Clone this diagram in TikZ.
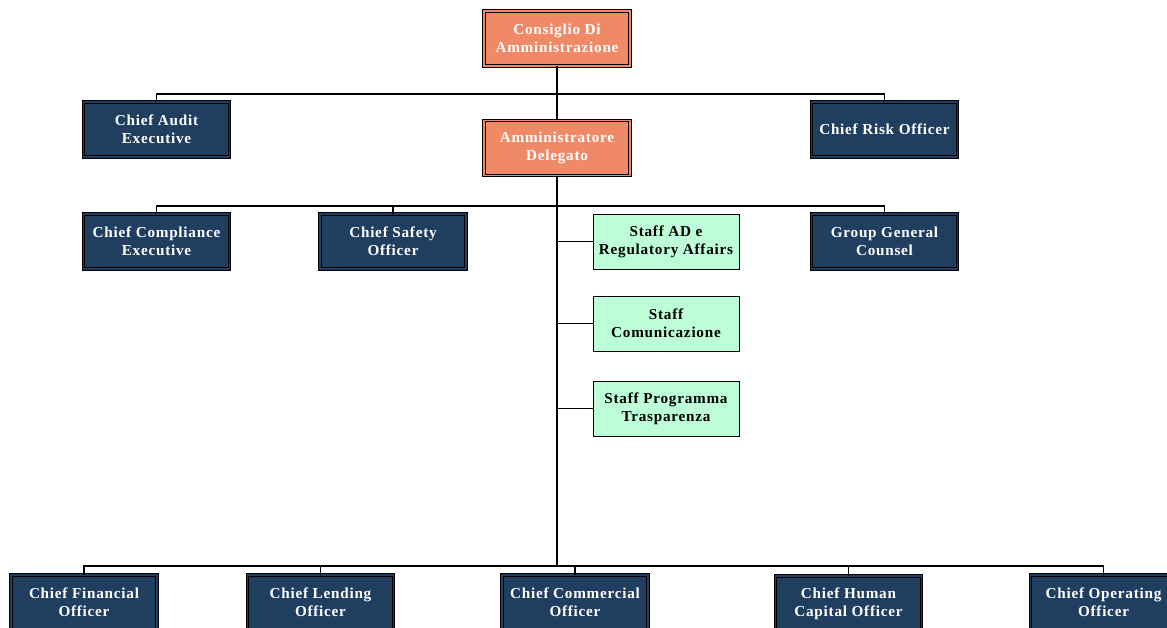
\documentclass[tikz,border=0pt]{standalone}
\usepackage{fontspec}
\setmainfont{Liberation Serif}[LetterSpace=5]
\definecolor{navy}{HTML}{1F3E60}
\definecolor{coral}{HTML}{F08966}
\definecolor{mint}{HTML}{BDFDD8}
\tikzset{
  base/.style={minimum width=146pt, minimum height=55pt, inner sep=2pt, align=center,
    font=\bfseries\fontsize{15.2}{18}\selectfont},
  bluebox/.style={base, fill=navy, text=white, draw=black, line width=0.9pt, double=navy, double distance=1.6pt},
  orangebox/.style={base, fill=coral, text=white, draw=black, line width=0.9pt, double=coral, double distance=1.6pt},
  greenbox/.style={base, fill=mint, text=black, draw=black, line width=1pt},
  conn/.style={draw=black, line width=1.3pt},
  trunk/.style={draw=black, line width=2pt}
}
\begin{document}
\begin{tikzpicture}[x=1pt,y=-1pt]
\useasboundingbox[fill=white] (0,0) rectangle (1167,627);
% nodes
\node[orangebox] (cons) at (557,38.5) {Consiglio Di\\Amministrazione};
\node[bluebox] (cae) at (156.5,129.5) {Chief Audit\\Executive};
\node[bluebox] (cro) at (884.5,129.5) {Chief Risk Officer};
\node[orangebox] (ad) at (557,148) {Amministratore\\Delegato};
\node[bluebox] (cce) at (156.5,241.5) {Chief Compliance\\Executive};
\node[bluebox] (cso) at (393,241.5) {Chief Safety\\Officer};
\node[greenbox] (sad) at (666,241.5) {Staff AD e\\Regulatory Affairs};
\node[bluebox] (ggc) at (884.5,241.5) {Group General\\Counsel};
\node[greenbox] (scom) at (666,323.5) {Staff\\Comunicazione};
\node[greenbox] (spt) at (666,408.5) {Staff Programma\\Trasparenza};
\node[bluebox] (cfo) at (84,602.5) {Chief Financial\\Officer};
\node[bluebox] (clo) at (320.5,602.5) {Chief Lending\\Officer};
\node[bluebox] (cco) at (575,602.5) {Chief Commercial\\Officer};
\node[bluebox, yshift=-1pt] (chco) at (848.5,602.5) {Chief Human\\Capital Officer};
\node[bluebox] (coo) at (1103.5,602.5) {Chief Operating\\Officer};
% junctions
\coordinate (j1) at (557,94);
\coordinate (j2) at (557,206);
\coordinate (j3) at (557,566);
% connectors
\draw[trunk] (cons.south) -- (ad.north);
\draw[conn] (cae.north) |- (j1) -| (cro.north);
\draw[trunk] (ad.south) -- (j3);
\draw[conn] (cce.north) |- (j2) -| (ggc.north);
\draw[conn] (cso.north) -- (cso.north |- j2);
\draw[conn] (j2 |- sad.west) -- (sad.west);
\draw[conn] (j2 |- scom.west) -- (scom.west);
\draw[conn] (j2 |- spt.west) -- (spt.west);
\draw[conn] (cfo.north) |- (j3) -| (coo.north);
\draw[conn] (clo.north) -- (clo.north |- j3);
\draw[conn] (cco.north) -- (cco.north |- j3);
\draw[conn] (chco.north) -- (chco.north |- j3);
\end{tikzpicture}
\end{document}
